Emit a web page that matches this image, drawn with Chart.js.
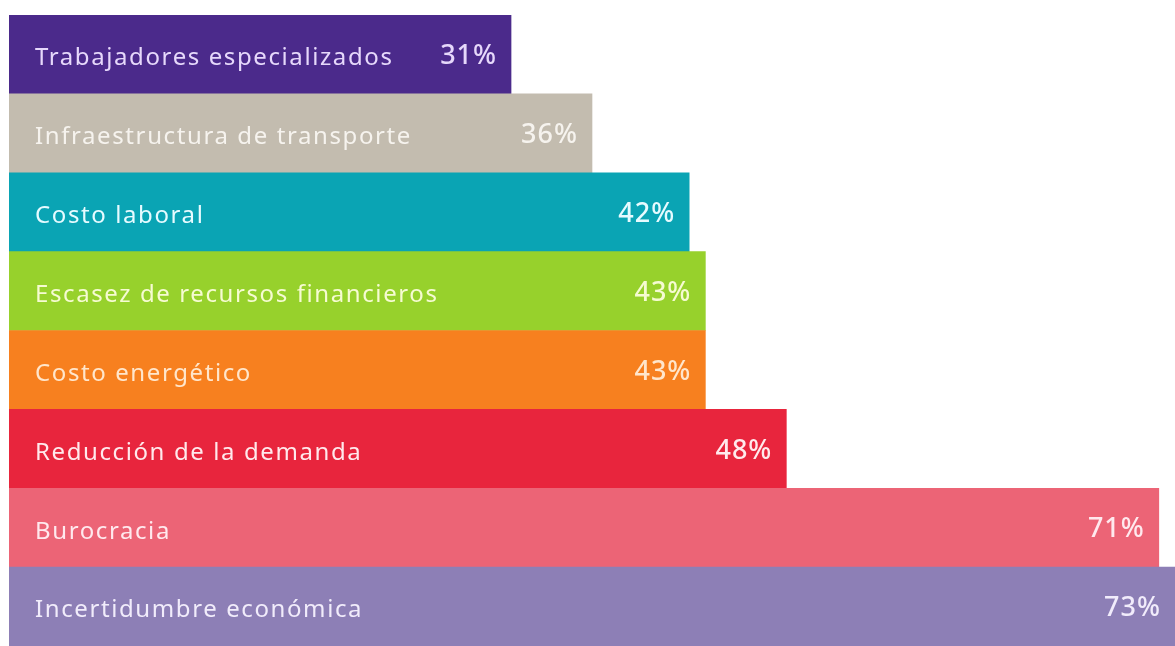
<!DOCTYPE html>
<html>
<head>
<meta charset="utf-8">
<script src="https://cdn.jsdelivr.net/npm/chart.js@4"></script>
<style>
  html, body { margin: 0; padding: 0; background: #fff; }
  #wrap { width: 1175px; height: 646px; position: relative; }
</style>
</head>
<body>
<div id="wrap"><canvas id="barrerasChart"></canvas></div>
<script>
var categorias = [
    'Trabajadores especializados',
    'Infraestructura de transporte',
    'Costo laboral',
    'Escasez de recursos financieros',
    'Costo energético',
    'Reducción de la demanda',
    'Burocracia',
    'Incertidumbre económica'
];
var porcentajes = [31, 36, 42, 43, 43, 48, 71, 73];
var colores = ['#4b2a8b', '#c3bcaf', '#0aa4b4', '#97d12c', '#f7801f', '#e8253d', '#ec6476', '#8d7fb6'];
var coloresTexto = ['#e6d8fb', '#f6f3ee', '#e6fbff', '#f6fbd2', '#ffe6cc', '#ffe9ec', '#ffe9ee', '#f1ecfb'];

// dibuja el nombre a la izquierda y el porcentaje al final de cada barra
var etiquetasPlugin = {
    id: 'etiquetas',
    afterDatasetsDraw: function (chart) {
        var ctx = chart.ctx;
        var area = chart.chartArea;
        var meta = chart.getDatasetMeta(0);
        ctx.save();
        meta.data.forEach(function (bar, i) {
            ctx.fillStyle = coloresTexto[i];
            ctx.textBaseline = 'middle';
            ctx.textAlign = 'left';
            ctx.letterSpacing = '1.6px';
            ctx.font = '400 24px "Noto Sans", sans-serif';
            ctx.fillText(categorias[i], bar.base + 26, bar.y + 4);
            ctx.textAlign = 'right';
            ctx.letterSpacing = '1px';
            ctx.font = '500 27px "Noto Sans", sans-serif';
            var xr = Math.min(bar.x, area.right) - 14;
            ctx.fillText(porcentajes[i] + '%', xr, bar.y + 2);
        });
        ctx.restore();
    }
};

var ctx = document.getElementById('barrerasChart').getContext('2d');
var barrerasChart = new Chart(ctx, {
    type: 'bar',
    data: {
        labels: categorias,
        datasets: [{
            data: porcentajes,
            backgroundColor: colores,
            borderWidth: 0,
            barPercentage: 1,
            categoryPercentage: 1
        }]
    },
    options: {
        indexAxis: 'y',
        responsive: true,
        maintainAspectRatio: false,
        animation: false,
        layout: { padding: { top: 15, left: 9, right: 0, bottom: 0 } },
        scales: {
            x: { display: false, min: 0, max: 72 },
            y: { display: false }
        },
        plugins: {
            legend: { display: false },
            tooltip: { enabled: false }
        }
    },
    plugins: [etiquetasPlugin]
});
</script>
</body>
</html>
